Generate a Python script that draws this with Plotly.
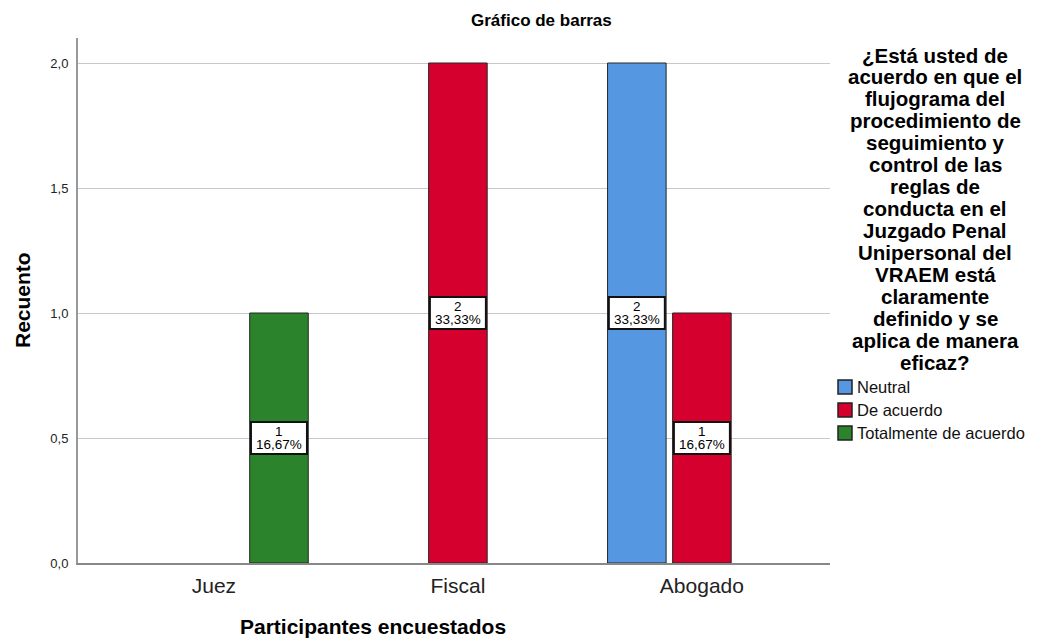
import plotly.graph_objects as go

categories = ["Juez", "Fiscal", "Abogado"]
series_names = ["Neutral", "De acuerdo", "Totalmente de acuerdo"]
neutral = [None, None, 2]
de_acuerdo = [None, 2, 1]
totalmente = [1, None, None]
series_values = [neutral, de_acuerdo, totalmente]
colors = ["#5697E2", "#D6002F", "#2B842B"]
y_ticks = [0, 0.5, 1.0, 1.5, 2.0]
legend_title_lines = ["¿Está usted de", "acuerdo en que el", "flujograma del", "procedimiento de",
                      "seguimiento y", "control de las", "reglas de", "conducta en el", "Juzgado Penal",
                      "Unipersonal del", "VRAEM está", "claramente", "definido y se",
                      "aplica de manera", "eficaz?"]

FONT = "Liberation Sans, Arial, sans-serif"
W, H = 1037, 639
OFF = 8  # page body margin
L, R, T, B = 70, 215, 30, 84
pw = W - L - R
ph = H - T - B


def fx(px):
    return (px - OFF - L) / pw


def fy(py):
    return (H - (py - OFF) - B) / ph


bargap = 0.2
bargroupgap = 0.1
n = len(series_names)
slot = (1 - bargap) / n

total = sum(v for s in series_values for v in s if v is not None)

fig = go.Figure()
annotations = []
shapes = []
for i, (name, vals, col) in enumerate(zip(series_names, series_values, colors)):
    fig.add_trace(go.Bar(
        name=name, x=list(range(len(categories))), y=vals,
        marker=dict(color=col, line=dict(color="#262626", width=1)),
        showlegend=False,
    ))
    off = (i - (n - 1) / 2) * slot
    for j, v in enumerate(vals):
        if v is None:
            continue
        pct = f"{v / total * 100:.2f}".replace(".", ",") + "%"
        cx, cy = j + off, v / 2
        shapes.append(dict(
            type="rect", xref="x", yref="y", xsizemode="pixel", ysizemode="pixel",
            xanchor=cx, yanchor=cy, x0=-28, x1=28, y0=-16, y1=16,
            fillcolor="white", line=dict(color="#111", width=2), layer="above",
        ))
        annotations.append(dict(x=cx, y=cy, xref="x", yref="y", text=str(v), showarrow=False,
                                yshift=7, font=dict(family=FONT, size=13.5, color="#000")))
        annotations.append(dict(x=cx, y=cy, xref="x", yref="y", text=pct, showarrow=False,
                                yshift=-6, font=dict(family=FONT, size=13.5, color="#000")))

# Title, axis titles
annotations += [
    dict(text="<b>Gráfico de barras</b>", x=fx(541), y=fy(20), xref="paper", yref="paper",
         showarrow=False, font=dict(family=FONT, size=17, color="#000"), xanchor="center", yanchor="middle"),
    dict(text="<b>Participantes encuestados</b>", x=fx(373), y=fy(626), xref="paper", yref="paper",
         showarrow=False, font=dict(family=FONT, size=21, color="#000"), xanchor="center", yanchor="middle"),
    dict(text="<b>Recuento</b>", x=fx(22), y=fy(300), xref="paper", yref="paper", textangle=-90,
         showarrow=False, font=dict(family=FONT, size=21, color="#000"), xanchor="center", yanchor="middle"),
]
# Legend title, one line at a time for tight spacing
for k, line in enumerate(legend_title_lines):
    annotations.append(dict(text="<b>" + line + "</b>", x=fx(935), y=fy(55 + k * 21.93),
                            xref="paper", yref="paper", showarrow=False,
                            font=dict(family=FONT, size=20.5, color="#000"),
                            xanchor="center", yanchor="middle"))
# Legend items
for k, (name, col) in enumerate(zip(series_names, colors)):
    cy = 387 + k * 23
    shapes.append(dict(type="rect", xref="paper", yref="paper",
                       x0=fx(838), x1=fx(852), y0=fy(cy + 7), y1=fy(cy - 7),
                       fillcolor=col, line=dict(color="#222", width=1.5)))
    annotations.append(dict(text=name, x=fx(855), y=fy(cy), xref="paper", yref="paper",
                            showarrow=False, font=dict(family=FONT, size=16.5, color="#111"),
                            xanchor="left", yanchor="middle"))

fig.update_layout(
    width=W, height=H,
    margin=dict(l=L, r=R, t=T, b=B, autoexpand=False),
    paper_bgcolor="white", plot_bgcolor="white",
    barmode="group", bargap=bargap, bargroupgap=bargroupgap,
    separators=",.",
    showlegend=False,
    xaxis=dict(tickmode="array", tickvals=list(range(len(categories))), ticktext=categories,
               range=[-0.557, 2.525], showgrid=False, zeroline=False,
               showline=True, linecolor="#888", linewidth=2, ticks="", ticklabelstandoff=3,
               tickfont=dict(family=FONT, size=21, color="#222")),
    yaxis=dict(range=[0, 2.1], tickvals=y_ticks, tickformat=".1f", showgrid=True,
               gridcolor="#c8c8c8", gridwidth=1, zeroline=False, showline=True,
               linecolor="#999", linewidth=2, ticks="", ticklabelstandoff=5,
               tickfont=dict(family=FONT, size=13, color="#222")),
    annotations=annotations,
    shapes=shapes,
    font=dict(family=FONT),
)

fig.write_html("out.html")
